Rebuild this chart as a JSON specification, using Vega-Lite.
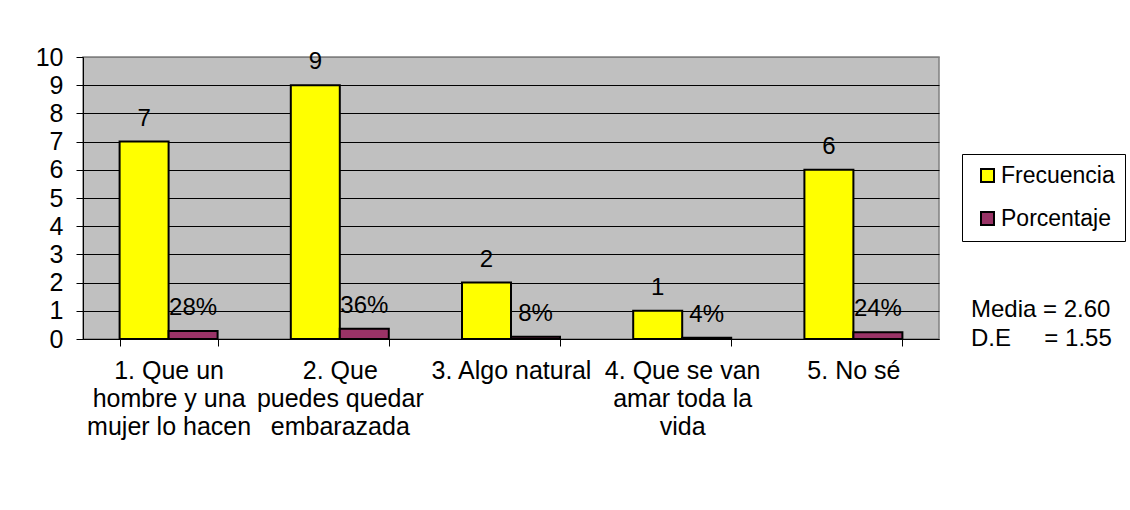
{
  "$schema": "https://vega.github.io/schema/vega-lite/v6.json",
  "width": 856,
  "height": 282,
  "autosize": {"type": "none"},
  "padding": {"left": 83, "top": 57, "right": 191, "bottom": 171},
  "background": "white",
  "title": {
    "text": ["Media = 2.60", "D.E\u00a0\u00a0\u00a0\u00a0 = 1.55"],
    "orient": "top",
    "anchor": "start",
    "frame": "group",
    "align": "left",
    "baseline": "alphabetic",
    "dx": 888,
    "dy": 325,
    "offset": 0,
    "fontSize": 24,
    "fontWeight": "normal",
    "lineHeight": 29,
    "color": "black"
  },
  "data": {
    "values": [
      {"categoria": "1. Que un|hombre y una|mujer lo hacen", "serie": "Frecuencia", "valor": 7, "etiqueta": "7"},
      {"categoria": "1. Que un|hombre y una|mujer lo hacen", "serie": "Porcentaje", "valor": 0.28, "etiqueta": "28%"},
      {"categoria": "2. Que|puedes quedar|embarazada", "serie": "Frecuencia", "valor": 9, "etiqueta": "9"},
      {"categoria": "2. Que|puedes quedar|embarazada", "serie": "Porcentaje", "valor": 0.36, "etiqueta": "36%"},
      {"categoria": "3. Algo natural", "serie": "Frecuencia", "valor": 2, "etiqueta": "2"},
      {"categoria": "3. Algo natural", "serie": "Porcentaje", "valor": 0.08, "etiqueta": "8%"},
      {"categoria": "4. Que se van|amar toda la|vida", "serie": "Frecuencia", "valor": 1, "etiqueta": "1"},
      {"categoria": "4. Que se van|amar toda la|vida", "serie": "Porcentaje", "valor": 0.04, "etiqueta": "4%"},
      {"categoria": "5. No sé", "serie": "Frecuencia", "valor": 6, "etiqueta": "6"},
      {"categoria": "5. No sé", "serie": "Porcentaje", "valor": 0.24, "etiqueta": "24%"}
    ]
  },
  "encoding": {
    "x": {
      "field": "categoria",
      "type": "nominal",
      "sort": null,
      "scale": {"paddingInner": 0.4276, "paddingOuter": 0.2138},
      "axis": {
        "title": null,
        "labelAngle": 0,
        "labelExpr": "split(datum.label, '|')",
        "labelFontSize": 25,
        "labelLineHeight": 28,
        "labelColor": "black",
        "labelPadding": 12,
        "labelLimit": 0,
        "tickBand": "extent",
        "tickSize": 7,
        "tickColor": "black",
        "domainColor": "black",
        "grid": false
      }
    },
    "xOffset": {"field": "serie", "type": "nominal", "sort": ["Frecuencia", "Porcentaje"]},
    "y": {
      "field": "valor",
      "type": "quantitative",
      "scale": {"domain": [0, 10], "nice": false},
      "axis": {
        "title": null,
        "values": [0, 1, 2, 3, 4, 5, 6, 7, 8, 9, 10],
        "labelFontSize": 25,
        "labelColor": "black",
        "labelPadding": 13,
        "tickSize": 7,
        "tickColor": "black",
        "domainColor": "black",
        "grid": true,
        "gridColor": {"condition": {"test": "datum.value == 10", "value": "#808080"}, "value": "black"},
        "gridOpacity": 1
      }
    }
  },
  "layer": [
    {
      "mark": {"type": "bar", "stroke": "black", "strokeWidth": 2},
      "encoding": {
        "color": {
          "field": "serie",
          "type": "nominal",
          "scale": {"domain": ["Frecuencia", "Porcentaje"], "range": ["#FFFF00", "#993366"]},
          "legend": {
            "orient": "none",
            "legendX": 879,
            "legendY": 97,
            "title": null,
            "symbolType": "square",
            "symbolSize": 169,
            "symbolStrokeColor": "black",
            "symbolStrokeWidth": 2,
            "symbolOpacity": 1,
            "symbolOffset": 4,
            "labelFontSize": 23,
            "labelColor": "black",
            "labelOffset": 2,
            "rowPadding": 19,
            "padding": 10,
            "strokeColor": "black",
            "fillColor": "white"
          }
        }
      }
    },
    {
      "mark": {"type": "text", "baseline": "alphabetic", "dy": -16, "fontSize": 24, "color": "black"},
      "encoding": {"text": {"field": "etiqueta"}}
    }
  ],
  "config": {
    "font": "Liberation Sans",
    "view": {"fill": "#C0C0C0", "stroke": "#808080", "strokeWidth": 1.5},
    "axis": {"labelFont": "Liberation Sans"},
    "legend": {"labelFont": "Liberation Sans"}
  }
}
